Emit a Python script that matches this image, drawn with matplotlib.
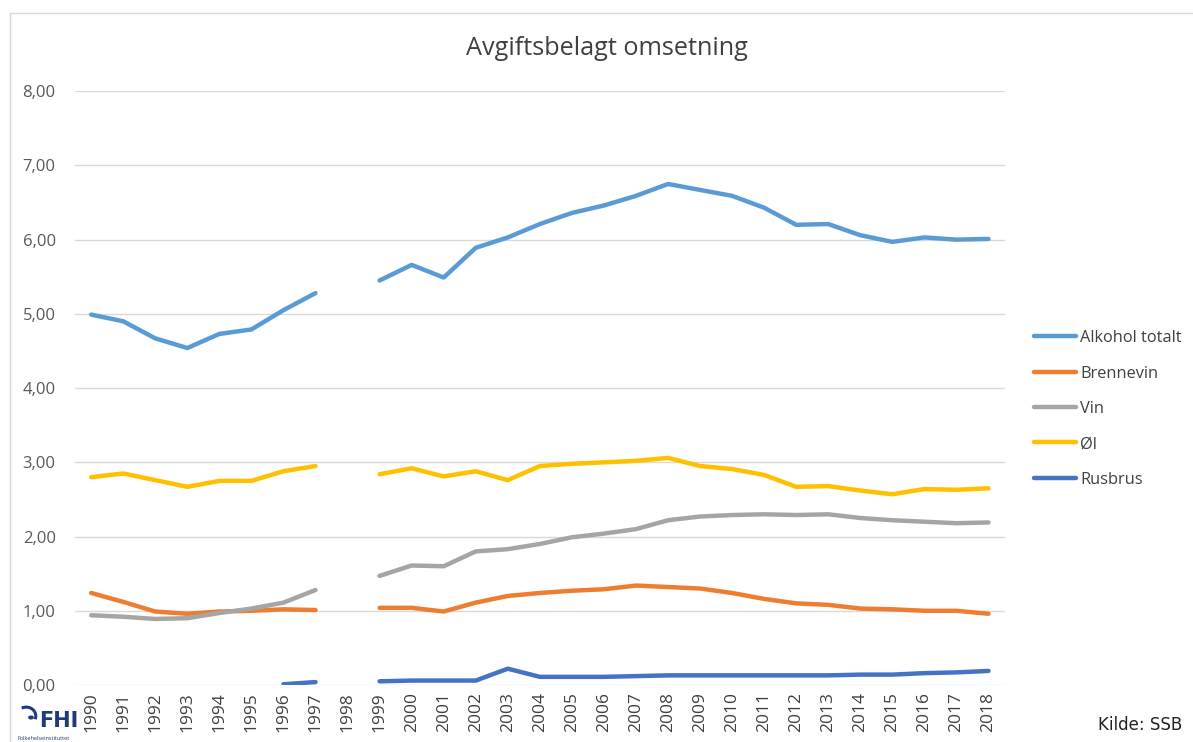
import numpy as np
import matplotlib
matplotlib.use("Agg")
import matplotlib.pyplot as plt
from matplotlib.patches import Rectangle, Circle
from matplotlib.lines import Line2D
from matplotlib.ticker import FuncFormatter

nan = np.nan
years = [str(y) for y in range(1990, 2019)]

alkohol = [4.99, 4.90, 4.67, 4.54, 4.73, 4.79, 5.05, 5.28, nan, 5.45,
           5.66, 5.49, 5.89, 6.03, 6.21, 6.36, 6.46, 6.59, 6.75, 6.67,
           6.59, 6.43, 6.20, 6.21, 6.06, 5.97, 6.03, 6.00, 6.01]
brennevin = [1.24, 1.12, 0.99, 0.96, 0.99, 1.00, 1.02, 1.01, nan, 1.04,
             1.04, 0.99, 1.11, 1.20, 1.24, 1.27, 1.29, 1.34, 1.32, 1.30,
             1.24, 1.16, 1.10, 1.08, 1.03, 1.02, 1.00, 1.00, 0.96]
vin = [0.94, 0.92, 0.89, 0.90, 0.97, 1.03, 1.11, 1.28, nan, 1.47,
       1.61, 1.60, 1.80, 1.83, 1.90, 1.99, 2.04, 2.10, 2.22, 2.27,
       2.29, 2.30, 2.29, 2.30, 2.25, 2.22, 2.20, 2.18, 2.19]
ol = [2.80, 2.85, 2.76, 2.67, 2.75, 2.75, 2.88, 2.95, nan, 2.84,
      2.92, 2.81, 2.88, 2.76, 2.95, 2.98, 3.00, 3.02, 3.06, 2.95,
      2.91, 2.83, 2.67, 2.68, 2.62, 2.57, 2.64, 2.63, 2.65]
rusbrus = [nan, nan, nan, nan, nan, nan, 0.01, 0.04, nan, 0.05,
           0.06, 0.06, 0.06, 0.22, 0.11, 0.11, 0.11, 0.12, 0.13, 0.13,
           0.13, 0.13, 0.13, 0.13, 0.14, 0.14, 0.16, 0.17, 0.19]

series = [("Alkohol totalt", alkohol, "#5B9BD5"),
          ("Brennevin", brennevin, "#ED7D31"),
          ("Vin", vin, "#A5A5A5"),
          ("Øl", ol, "#FFC000"),
          ("Rusbrus", rusbrus, "#4472C4")]

plt.rcParams["font.family"] = ["Open Sans", "DejaVu Sans"]

fig = plt.figure(figsize=(11.93, 7.42), dpi=100)
ax = fig.add_axes([0.063, 0.0768, 0.779, 0.8003])

x = np.arange(len(years))
for name, vals, col in series:
    ax.plot(x, vals, color=col, lw=3.2, label=name, solid_capstyle="round")

ax.set_xlim(-0.5, len(years) - 0.5)
ax.set_ylim(0, 8)
ax.set_yticks(np.arange(0, 9, 1))
ax.yaxis.set_major_formatter(FuncFormatter(lambda v, p: f"{v:.2f}".replace(".", ",")))
ax.set_xticks(x)
ax.set_xticklabels(years, rotation=90, fontsize=12.5, color="#404040")
ax.tick_params(axis="y", labelsize=12, labelcolor="#595959", length=0, pad=14)
ax.tick_params(axis="x", length=0, pad=5)
ax.grid(axis="y", color="#D9D9D9", lw=1)
ax.set_axisbelow(True)
for s in ax.spines.values():
    s.set_visible(False)

fig.text(0.509, 0.935, "Avgiftsbelagt omsetning", ha="center", va="center",
         fontsize=18.2, color="#404040")

leg = fig.legend(loc="center left", bbox_to_anchor=(0.854, 0.449), frameon=False,
                 fontsize=11.8, handlelength=2.6, handletextpad=0.25,
                 labelspacing=1.18, labelcolor="#404040")

fig.text(0.991, 0.023, "Kilde: SSB", ha="right", va="center", fontsize=12,
         family="DejaVu Sans", color="#222222")

# FHI logo (approximation)
logo_col = "#1F3A78"
fig.text(0.033, 0.028, "FHI", ha="left", va="center", fontsize=15, fontweight="bold",
         color=logo_col, family="DejaVu Sans")
t = np.linspace(-0.2, 1.9, 30)
fig.add_artist(Line2D(0.022 + 0.008 * np.cos(t), 0.035 + 0.012 * np.sin(t),
                      transform=fig.transFigure, color=logo_col, lw=2.2))
fig.add_artist(Circle((0.026, 0.033), 0.0018, transform=fig.transFigure, color=logo_col))
fig.text(0.015, 0.002, "Folkehelseinstituttet", ha="left", va="bottom", fontsize=4,
         color=logo_col)

fig.patches.append(Rectangle((0.008, -0.01), 1.1, 0.992, transform=fig.transFigure,
                             fill=False, edgecolor="#D9D9D9", lw=1))

fig.savefig("out.png", dpi=100)
